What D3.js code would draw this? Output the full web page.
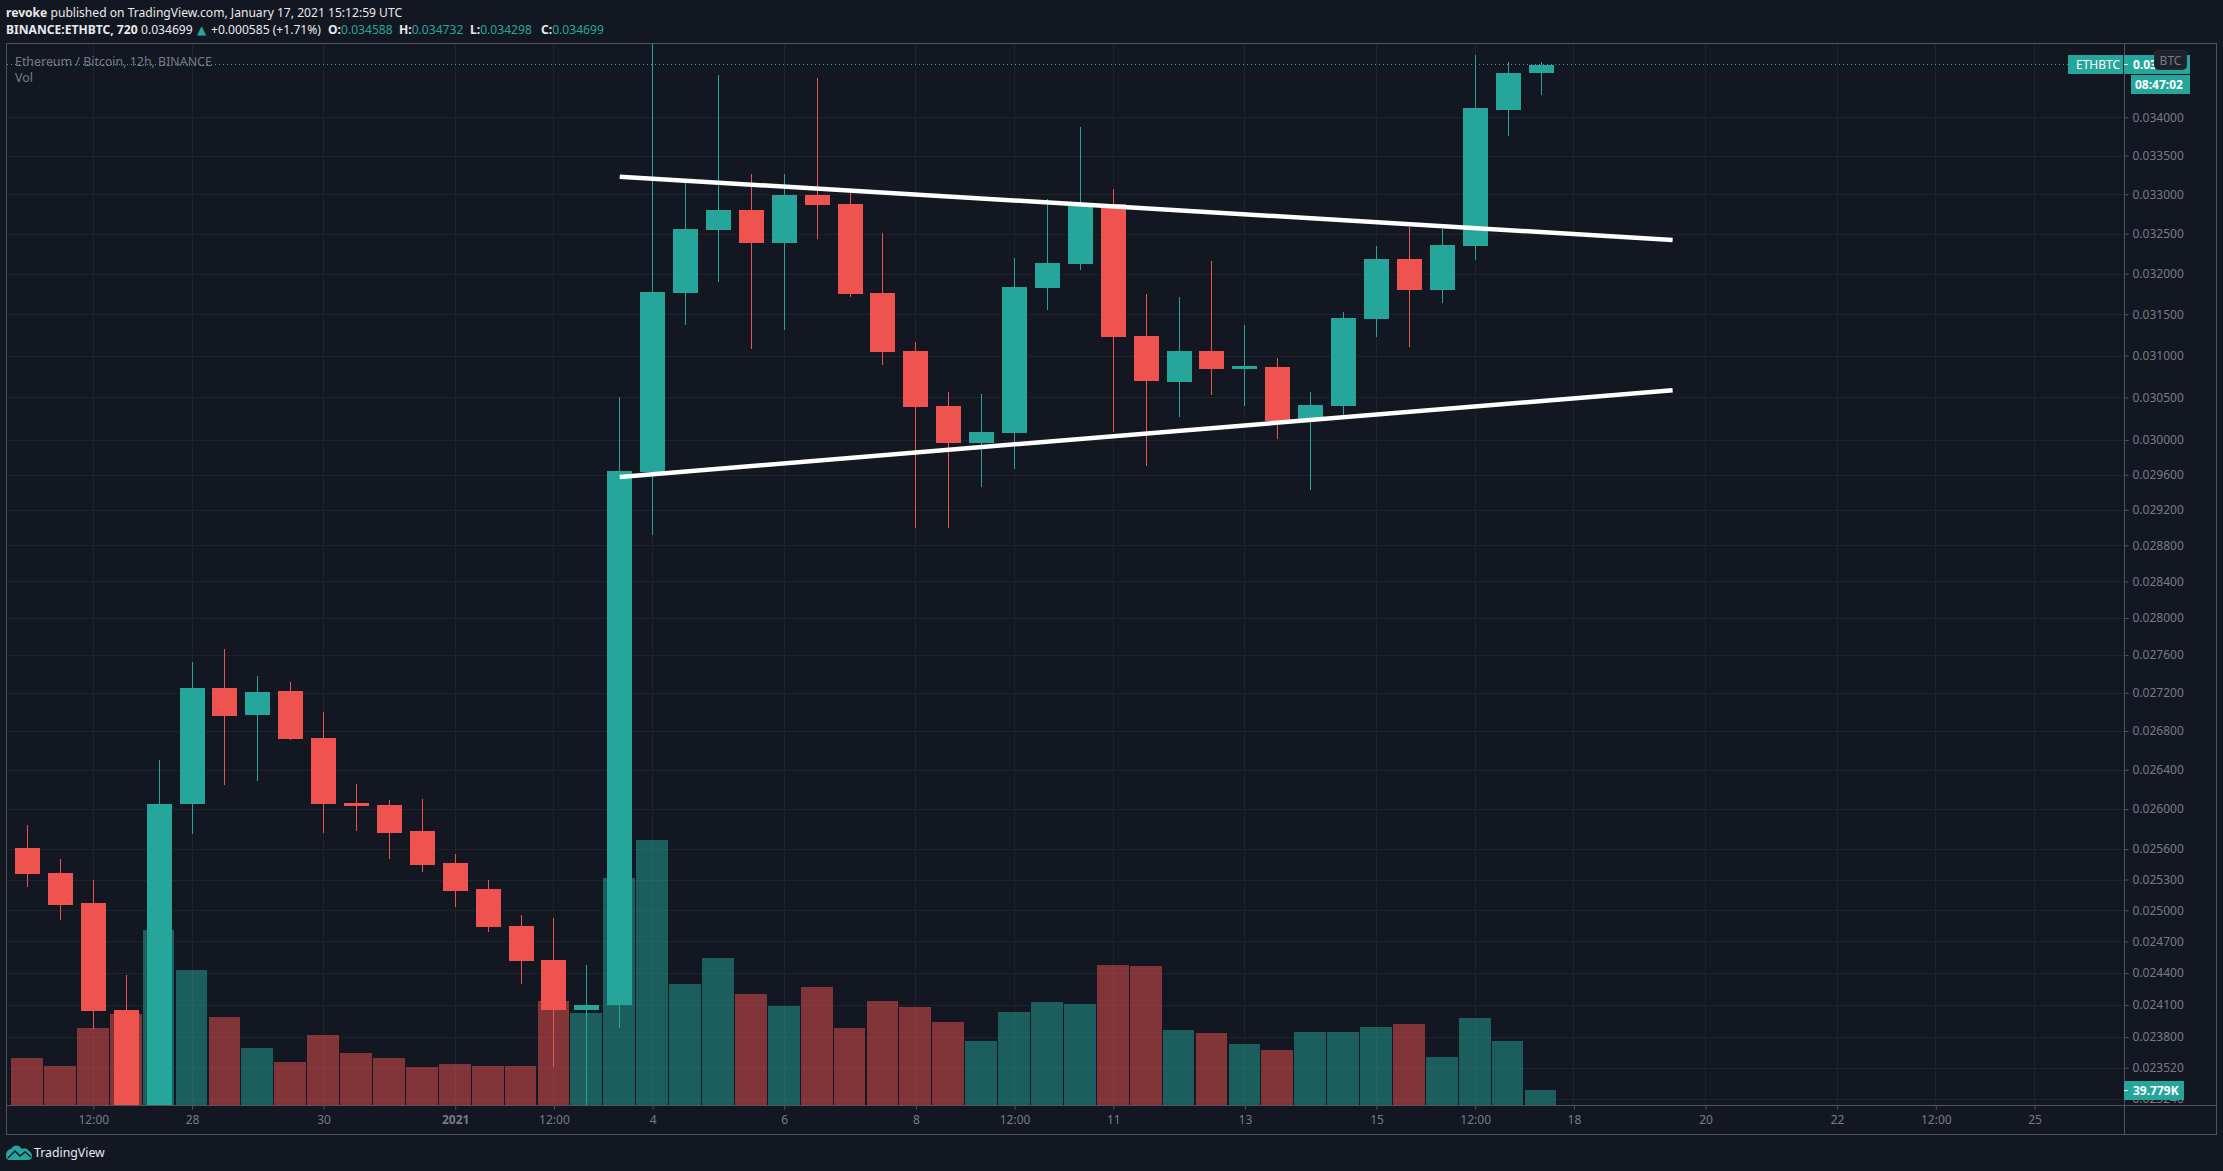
<!DOCTYPE html>
<html>
<head>
<meta charset="utf-8">
<script src="https://cdnjs.cloudflare.com/ajax/libs/d3/7.8.5/d3.min.js"></script>
<style>
html,body{margin:0;padding:0;background:#131722;overflow:hidden}
svg{display:block}
text{font-family:"Noto Sans",Roboto,sans-serif}
</style>
</head>
<body>
<svg id="c" width="2223" height="1171"></svg>
<script>
// ---- data (12h candles, index 0 = 25 Dec 2020 12:00 UTC) ----
const open  = [.025612,.025366,.025072,.024053,.023000,.026053,.027251,.026968,.027220,.026728,.026063,.026043,.025782,.025464,.025209,.024851,.024524,.024053,.024100,.029632,.031762,.032548,.032801,.032383,.032992,.032876,.031762,.031055,.030400,.029967,.030084,.031824,.032121,.032876,.031237,.030685,.031055,.030840,.030864,.030224,.030400,.031444,.032183,.031799,.032346,.034098,.034588];
const high  = [.025842,.025504,.025297,.024382,.026501,.027528,.027666,.027379,.027315,.026999,.026256,.026093,.026103,.025553,.025297,.024956,.024927,.024477,.030506,.035000,.033146,.034564,.033262,.033262,.034524,.033017,.032510,.031164,.030566,.030542,.032196,.032940,.033874,.033069,.031749,.031712,.032159,.031371,.030971,.030566,.031529,.032346,.032586,.032560,.034832,.034738,.034732];
const low   = [.025229,.024908,.023877,.022900,.022900,.025752,.026246,.026287,.026708,.025762,.025782,.025504,.025376,.025034,.024793,.024297,.023528,.022900,.023886,.028917,.031371,.031898,.031079,.031310,.032434,.031712,.030888,.028996,.028996,.029460,.029667,.031553,.032047,.030096,.029701,.030271,.030530,.030400,.030014,.029426,.030271,.031225,.031103,.031639,.032171,.033756,.034298];
const close = [.025356,.025053,.024044,.023000,.026053,.027251,.026957,.027209,.026718,.026053,.026033,.025762,.025445,.025190,.024841,.024515,.024053,.024100,.029644,.031774,.032560,.032801,.032383,.032992,.032864,.031749,.031043,.030388,.029967,.030096,.031836,.032134,.032851,.031225,.030697,.031055,.030840,.030876,.030224,.030412,.031456,.032183,.031799,.032358,.034124,.034591,.034699];
const volume = [124.6,103.4,204.2,241.3,464.1,358,233.4,151.2,114,185.6,137.9,124.6,100.8,108.7,103.4,103.4,275.8,244,602,702.8,320.9,389.8,294.4,262.5,312.9,204.2,275.8,259.9,220.1,169.7,246.6,273.2,267.9,371.3,368.6,198.9,190.9,161.8,145.9,193.6,193.6,206.9,214.8,127.3,230.7,169.7,39.779];
const volumeUp = [0,0,0,0,1,1,0,1,0,0,0,0,0,0,0,0,0,1,1,1,1,1,0,1,0,0,0,0,0,1,1,1,1,0,0,1,0,1,0,1,1,1,0,1,1,1,1];
const priceTicks = [.034,.0335,.033,.0325,.032,.0315,.031,.0305,.03,.0296,.0292,.0288,.0284,.028,.0276,.0272,.0268,.0264,.026,.0256,.0253,.025,.0247,.0244,.0241,.0238,.02352,.02324];
const timeTicks  = [2,5,9,13,16,19,23,27,30,33,37,41,44,47,51,55,58,61];
const timeLabels = ["12:00","28","30","2021","12:00","4","6","8","12:00","11","13","15","12:00","18","20","22","12:00","25"];
const upperTrend = [[18,.033224],[50,.032421]];
const lowerTrend = [[18,.029575],[50,.030586]];
const lastPrice = .034699;
const lastVolume = 39.779;

const UP="#26a69a", DOWN="#ef5350", BG="#131722", GRID="#1e222d", FRAME="#50535e", TXT="#787b86";
const L=7,R=2124,T=44,B=1105,FR=2216.5,FB=1134.5;

const svg=d3.select("#c");
const x=d3.scaleLinear().domain([0,46]).range([27.5,1541]);
const y=d3.scaleLog().domain([.034987,.023182]).range([43.5,1105]);
const v=d3.scaleLinear().domain([0,265.2]).range([1105,1005]);
const step=x(1)-x(0), bodyW=25, volW=step*.965;
const px=i=>Math.floor(x(i))+.5;

svg.append("rect").attr("width",2223).attr("height",1171).attr("fill",BG);
svg.append("clipPath").attr("id","plot").append("rect").attr("x",L).attr("y",T).attr("width",R-L).attr("height",B-T);

// grid
const grid=svg.append("g").attr("stroke",GRID).attr("stroke-width",1).attr("shape-rendering","crispEdges");
grid.selectAll(".h").data(priceTicks).join("line").attr("x1",L).attr("x2",R)
  .attr("y1",d=>Math.round(y(d))+.5).attr("y2",d=>Math.round(y(d))+.5);
grid.selectAll(".v").data(timeTicks).join("line").attr("y1",T).attr("y2",B)
  .attr("x1",d=>px(d)).attr("x2",d=>px(d));

const plot=svg.append("g").attr("clip-path","url(#plot)");
// volume
plot.append("g").selectAll("rect").data(volume).join("rect")
  .attr("x",(d,i)=>x(i)-.5-volW/2).attr("width",volW)
  .attr("y",d=>v(d)).attr("height",d=>B-v(d))
  .attr("fill",(d,i)=>volumeUp[i]?UP:DOWN).attr("fill-opacity",.5).attr("shape-rendering","crispEdges");
// candles
const c=plot.append("g").selectAll("g").data(open).join("g").attr("shape-rendering","crispEdges");
c.append("line").attr("x1",(d,i)=>px(i)).attr("x2",(d,i)=>px(i))
  .attr("y1",(d,i)=>y(high[i])).attr("y2",(d,i)=>y(low[i]))
  .attr("stroke",(d,i)=>close[i]>=open[i]?UP:DOWN).attr("stroke-width",1);
c.append("rect").attr("x",(d,i)=>px(i)-bodyW/2).attr("width",bodyW)
  .attr("y",(d,i)=>y(Math.max(open[i],close[i])))
  .attr("height",(d,i)=>Math.max(1,Math.abs(y(open[i])-y(close[i]))))
  .attr("fill",(d,i)=>close[i]>=open[i]?UP:DOWN);
// last price line
plot.append("line").attr("x1",L).attr("x2",2068).attr("y1",Math.round(y(lastPrice))-.5).attr("y2",Math.round(y(lastPrice))-.5)
  .attr("stroke",UP).attr("stroke-width",1).attr("stroke-dasharray","1 3");
// trend lines
const tl=d3.line().x(d=>x(d[0])).y(d=>y(d[1]));
[upperTrend,lowerTrend].forEach(t=>svg.append("path").attr("d",tl(t)).attr("fill","none").attr("stroke","#fff").attr("stroke-width",4.5));

// frame
const fr=svg.append("g").attr("stroke",FRAME).attr("fill","none").attr("stroke-width",1).attr("shape-rendering","crispEdges");
fr.append("rect").attr("x",6.5).attr("y",43.5).attr("width",FR-6.5).attr("height",FB-43.5);
fr.append("line").attr("x1",6.5).attr("x2",FR).attr("y1",1105.5).attr("y2",1105.5);
fr.append("line").attr("x1",2124.5).attr("x2",2124.5).attr("y1",43.5).attr("y2",FB);

// axes
const ya=svg.append("g").attr("transform",`translate(${R+.5},0)`)
  .call(d3.axisRight(y).tickValues(priceTicks).tickFormat(d3.format(".6f")).tickSize(4).tickPadding(4));
ya.select(".domain").remove();
ya.selectAll("line").attr("stroke",FRAME);
ya.selectAll("text").attr("fill",TXT).attr("font-size",12).attr("font-family",'"Noto Sans"');
const xa=svg.append("g").attr("transform",`translate(0,${B+.5})`)
  .call(d3.axisBottom(x).tickValues(timeTicks).tickFormat((d,i)=>timeLabels[i]).tickSize(4).tickPadding(6));
xa.select(".domain").remove();
xa.selectAll("line").attr("stroke",FRAME);
xa.selectAll("text").attr("fill",TXT).attr("font-size",12).attr("font-family",'"Noto Sans"')
  .attr("font-weight",(d,i)=>timeLabels[i]==="2021"?"bold":"normal");

// header
const h1=svg.append("text").attr("x",6).attr("y",17).attr("font-size",12.1).attr("fill","#e8e9ec");
h1.append("tspan").attr("font-weight","bold").text("revoke");
h1.append("tspan").text(" published on TradingView.com, January 17, 2021 15:12:59 UTC");
const h2=svg.append("text").attr("x",6).attr("y",34).attr("font-size",12.1).attr("fill","#e8e9ec");
h2.append("tspan").attr("font-weight","bold").text("BINANCE:ETHBTC, 720");
h2.append("tspan").attr("x",141).text("0.034699");
h2.append("tspan").attr("x",197).attr("fill",UP).attr("font-family","DejaVu Sans").attr("font-size",12).text("▲");
h2.append("tspan").attr("x",211).text("+0.000585 (+1.71%)");
const ohlcX=[328,399,470,541];
[["O:",open[46]],["H:",high[46]],["L:",low[46]],["C:",close[46]]].forEach(([k,val],i)=>{
  h2.append("tspan").attr("x",ohlcX[i]).attr("font-weight","bold").text(k);
  h2.append("tspan").attr("fill",UP).text(val.toFixed(6));
});
svg.append("text").attr("x",15).attr("y",65.5).attr("font-size",12.4).attr("fill",TXT).text("Ethereum / Bitcoin, 12h, BINANCE");
svg.append("text").attr("x",15).attr("y",82).attr("font-size",12.4).attr("fill",TXT).text("Vol");

// tags
function tag(x0,y0,w,ht,label,tx,bold){
  svg.append("rect").attr("x",x0).attr("y",y0).attr("width",w).attr("height",ht).attr("fill",UP);
  svg.append("text").attr("x",tx).attr("y",y0+ht/2+4.5).attr("font-size",12).attr("fill","#fff").attr("font-weight",bold?"bold":"normal").text(label);
}
tag(2068,55,55,19,"ETHBTC",2076,false);
tag(2124,55,66,19,lastPrice.toFixed(6),2133,true);
svg.append("line").attr("x1",2124).attr("x2",2128).attr("y1",64.5).attr("y2",64.5).attr("stroke","#fff");
tag(2131,75,59,19,"08:47:02",2135,true);
tag(2124,1081,60,19,lastVolume.toFixed(3)+"K",2133,true);
svg.append("line").attr("x1",2124).attr("x2",2128).attr("y1",1090.5).attr("y2",1090.5).attr("stroke","#fff");
svg.append("rect").attr("x",2154.5).attr("y",50.5).attr("width",32).attr("height",19).attr("rx",4)
  .attr("fill","#1e222d").attr("stroke","#2a2e39");
svg.append("text").attr("x",2170.5).attr("y",64.5).attr("text-anchor","middle").attr("font-size",12).attr("fill",TXT).text("BTC");

// logo
const logo=svg.append("g");
logo.append("path").attr("fill",UP).attr("d","M6 1155 C6 1151 9 1149 11 1149 C13 1145 17 1145 19 1146 L22 1149 C25 1147 28 1149 29 1151 C31 1152 32 1154 32 1156 C32 1159 30 1160 28 1160 L10 1160 C7 1160 6 1158 6 1155 Z");
logo.append("path").attr("fill","none").attr("stroke",BG).attr("stroke-width",1.4).attr("d","M8 1158 L15 1151 L20 1156 L25 1152 L31 1157");
svg.append("text").attr("x",34).attr("y",1157).attr("font-size",12.3).attr("fill","#e8e9ec").text("TradingView");
</script>
</body>
</html>
